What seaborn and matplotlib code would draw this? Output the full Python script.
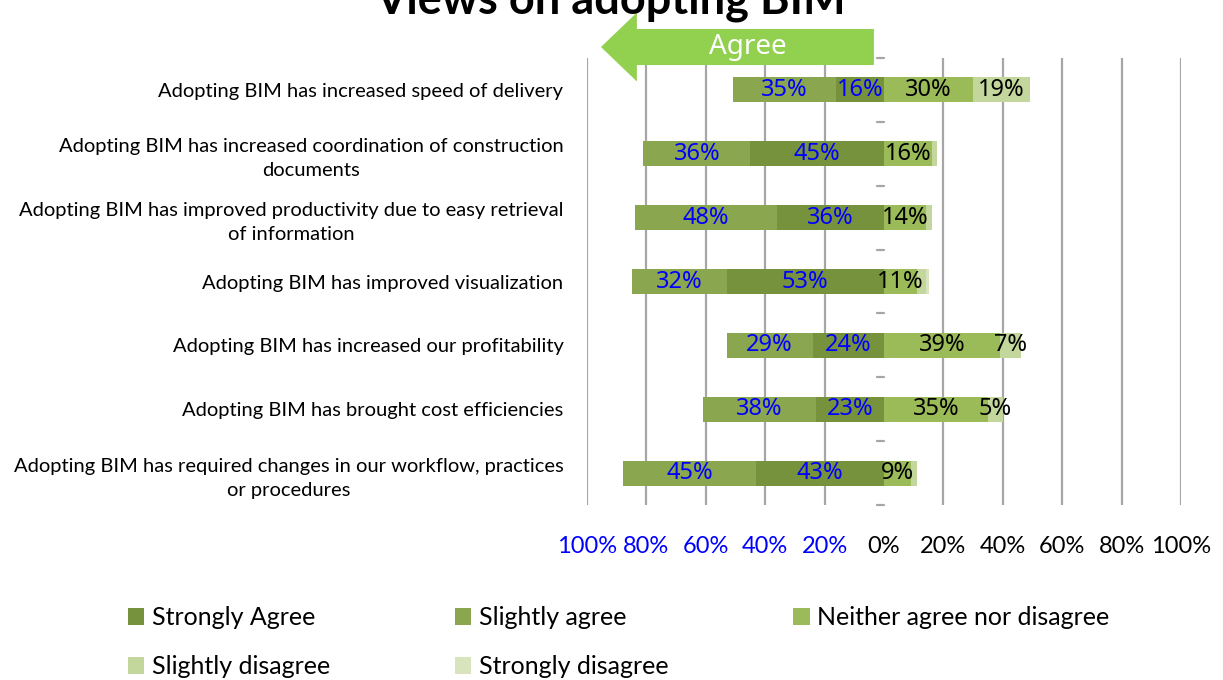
import matplotlib
matplotlib.use("Agg")
import matplotlib.pyplot as plt
from matplotlib.patches import Patch, FancyArrow
import seaborn as sns
import pandas as pd

# survey statements (tick labels, wrapped as in the original)
statements = [
    "Adopting BIM has increased speed of delivery",
    "Adopting BIM has increased coordination of construction\ndocuments",
    "Adopting BIM has improved productivity due to easy retrieval\nof information",
    "Adopting BIM has improved visualization",
    "Adopting BIM has increased our profitability",
    "Adopting BIM has brought cost efficiencies",
    "Adopting BIM has required changes in our workflow, practices\nor procedures",
]

# percentages per response
strongly_agree = [16, 45, 36, 53, 24, 23, 43]
slightly_agree = [35, 36, 48, 32, 29, 38, 45]
neither = [30, 16, 14, 11, 39, 35, 9]
slightly_disagree = [19, 2, 2, 3, 7, 5, 2]
strongly_disagree = [0, 0, 0, 1, 0, 0, 0]

xticks = [-100, -80, -60, -40, -20, 0, 20, 40, 60, 80, 100]
xtick_labels = ["100%", "80%", "60%", "40%", "20%", "0%", "20%", "40%", "60%", "80%", "100%"]

colors = {
    "Strongly Agree": "#76923c",
    "Slightly agree": "#8aa64e",
    "Neither agree nor disagree": "#9bbb59",
    "Slightly disagree": "#c3d69b",
    "Strongly disagree": "#d7e4bd",
}

sns.set_theme(style="white")
plt.rcParams["font.family"] = ["Lato", "DejaVu Sans"]
plt.rcParams["text.color"] = "black"
plt.rcParams["xtick.color"] = "black"
plt.rcParams["ytick.color"] = "black"

df = pd.DataFrame({
    "statement": statements,
    "sa": strongly_agree,
    "sla": slightly_agree,
    "n": neither,
    "sld": slightly_disagree,
    "sd": strongly_disagree,
})
df["agree_total"] = -(df["sa"] + df["sla"])
df["agree_strong"] = -df["sa"]
df["dis_total"] = df["n"] + df["sld"] + df["sd"]
df["dis_mid"] = df["n"] + df["sld"]

fig = plt.figure(figsize=(12.23, 6.8), dpi=100)
ax = fig.add_axes([587 / 1223, 1 - 505 / 680, 594 / 1223, 447 / 680])

# layered bars: outer segments first, inner ones painted over them
layers = [
    ("agree_total", "Slightly agree"),
    ("agree_strong", "Strongly Agree"),
    ("dis_total", "Strongly disagree"),
    ("dis_mid", "Slightly disagree"),
    ("n", "Neither agree nor disagree"),
]
for col, name in layers:
    sns.barplot(data=df, x=col, y="statement", color=colors[name], orient="h",
                width=0.39, saturation=1, linewidth=0, ax=ax, zorder=3)

ax.set_xlim(-100, 100)
ax.set_ylim(6.5, -0.5)
ax.set_xlabel("")
ax.set_ylabel("")
for s in ax.spines.values():
    s.set_visible(False)

ax.set_xticks(xticks)
ax.set_xticklabels(xtick_labels)
for lab, v in zip(ax.get_xticklabels(), xticks):
    lab.set_color("#0000ff" if v < 0 else "black")
    lab.set_fontsize(17)
ax.tick_params(axis="x", length=0, pad=22)
ax.set_yticks(range(len(statements)))
ax.set_yticklabels(statements, multialignment="center", linespacing=1.5,
                   color="black", fontsize=14.5)
ax.tick_params(axis="y", length=0, pad=17)

ax.xaxis.grid(True, color="#a6a6a6", linewidth=1.6, zorder=0)
ax.set_axisbelow(True)
ax.get_xgridlines()[5].set_visible(False)

# little tick marks at category boundaries on the zero line
for b in range(8):
    ax.plot([-2.4, 0], [b - 0.5, b - 0.5], color="#a6a6a6", lw=1.6,
            clip_on=False, zorder=1)

# data labels
lab_font = dict(fontsize=17, family=["Noto Sans", "DejaVu Sans"], ha="center", va="center", zorder=5)
for i in range(len(statements)):
    sa, sla, n, sld = strongly_agree[i], slightly_agree[i], neither[i], slightly_disagree[i]
    if sla >= 5:
        ax.text(-(sa + sla / 2), i, f"{sla}%", color="#0000ff", **lab_font)
    if sa >= 5:
        ax.text(-sa / 2, i, f"{sa}%", color="#0000ff", **lab_font)
    if n >= 5:
        ax.text(n / 2, i, f"{n}%", color="black", **lab_font)
    if sld >= 5:
        ax.text(n + sld / 2, i, f"{sld}%", color="black", **lab_font)

# "Agree" arrow
arrow = FancyArrow(-3.4, -0.672, -91.9, 0, width=0.564, head_width=1.08,
                   head_length=12.1, length_includes_head=True,
                   color="#92d050", linewidth=0, clip_on=False, zorder=6)
ax.add_patch(arrow)
ax.text(-46, -0.672, "Agree", color="white", fontsize=20,
        family=["Noto Sans", "DejaVu Sans"], ha="center", va="center",
        zorder=7, clip_on=False)

# title, partly cut off by the top edge as in the original
fig.text(611 / 1223, 1 - 13 / 680, "Views on adopting BIM", fontsize=32.5,
         fontweight="bold", ha="center", va="baseline")

# legend, row-wise order in three columns
order = ["Strongly Agree", "Slightly disagree", "Slightly agree",
         "Strongly disagree", "Neither agree nor disagree"]
handles = [Patch(facecolor=colors[k], edgecolor="none", label=k) for k in order]
fig.legend(handles=handles, ncol=3, loc="upper left",
           bbox_to_anchor=(128 / 1223, 1 - 606 / 680), frameon=False,
           fontsize=18, handlelength=0.65, handleheight=0.65, handletextpad=0.3,
           columnspacing=5.0, labelspacing=1.05, borderpad=0, borderaxespad=0)

fig.savefig("out.png", dpi=100)
